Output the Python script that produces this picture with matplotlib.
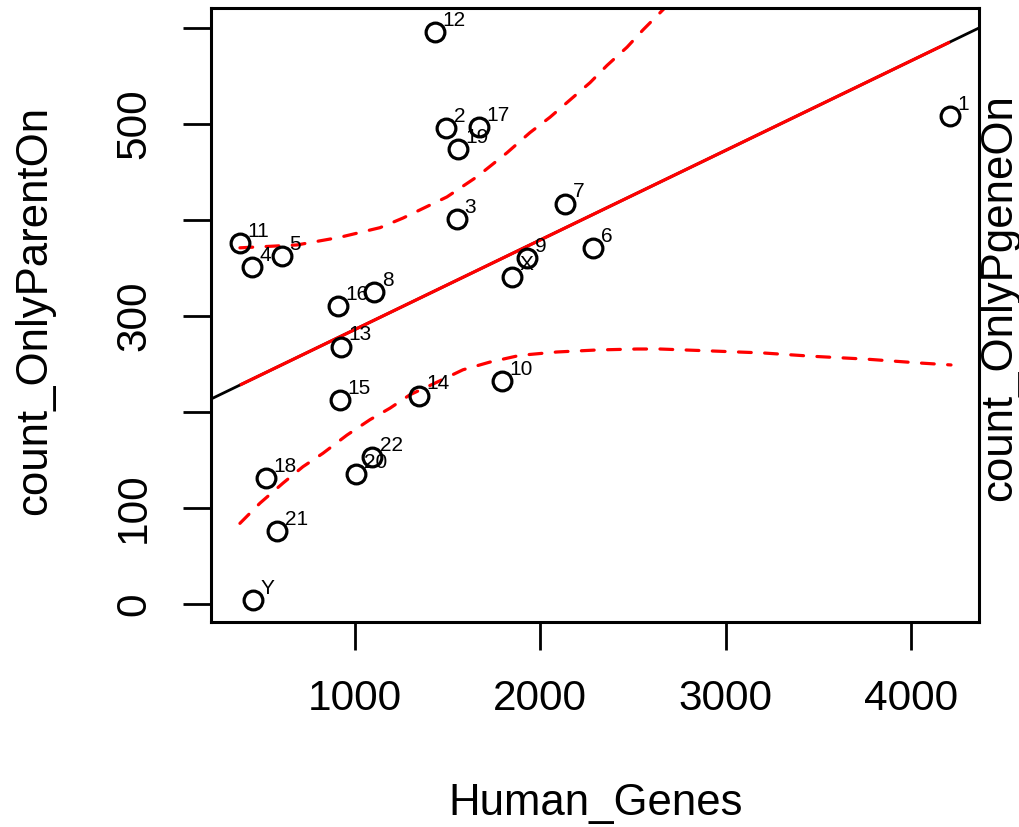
import matplotlib
matplotlib.use("Agg")
import matplotlib.pyplot as plt
import numpy as np

plt.rcParams['font.family'] = ['Liberation Sans', 'DejaVu Sans']

# points
labels = ["12", "2", "17", "19", "3", "7", "11", "4", "5", "16", "8", "9",
          "X", "6", "1", "13", "15", "14", "10", "22", "20", "18", "21", "Y"]
human_genes = [1432, 1491, 1669, 1556, 1550, 2133, 379, 444, 606, 908, 1103, 1928,
               1847, 2284, 4210, 924, 919, 1345, 1793, 1092, 1005, 520, 579, 450]
only_parent_on = [596, 496, 497, 474, 401, 417, 376, 351, 362, 310, 325, 360,
                  341, 371, 508, 268, 212, 217, 232, 153, 135, 131, 76, 4]

# linear fit (black, full width) read at the axis edges
fit_x = [223, 4367]
fit_y = [213.5, 600]

# dashed band curves
upper_x = [379, 687, 919, 1135, 1259, 1496, 1658, 1820, 1944, 2052, 2160, 2268,
           2360, 2468, 2554, 2662, 2754]
upper_y = [371, 374, 382, 392, 402, 424, 445, 470, 491, 507, 525, 543,
           561, 580, 598, 619, 637]
lower_x = [379, 487, 612, 719, 827, 957, 1081, 1189, 1297, 1442, 1583, 1728,
           1890, 2090, 2306, 2522, 2646, 2932, 3201, 3471, 3763, 4049, 4216]
lower_y = [84, 105, 126, 143, 157, 176, 192, 204, 218, 231, 244, 252,
           259, 262.5, 264.6, 265.6, 265.6, 263.5, 261.5, 258, 255, 251, 249]

fig = plt.figure(figsize=(10.2, 8.27), dpi=100)
ax = fig.add_axes([211/1020, 1 - 622/827, (979-211)/1020, (622-8)/827])

ax.plot(fit_x, fit_y, color="black", lw=2.0, solid_capstyle="butt")
red_x = [min(human_genes), max(human_genes)]
ax.plot(red_x, np.interp(red_x, fit_x, fit_y), color="red", lw=2.3, solid_capstyle="butt")
ax.plot(upper_x, upper_y, color="red", lw=2.3, dashes=(4.0, 4.2), dash_capstyle="round")
ax.plot(lower_x, lower_y, color="red", lw=2.3, dashes=(4.0, 4.2), dash_capstyle="round")

ax.plot(human_genes, only_parent_on, "o", ms=13.5, mfc="none", mec="black", mew=2.3)
for lab, x, y in zip(labels, human_genes, only_parent_on):
    ax.annotate(lab, (x, y), xytext=(5.5, 8.5), textcoords="offset points",
                ha="left", va="center", fontsize=15)

ax.set_xlim(223, 4367)
ax.set_ylim(-18.75, 620.8)
ax.set_xticks([1000, 2000, 3000, 4000])
ax.set_yticks([0, 100, 200, 300, 400, 500, 600])
ax.set_yticklabels(["0", "100", "", "300", "", "500", ""], rotation=90, va="center")
ax.tick_params(axis="both", length=20, width=2.0, labelsize=30.5, pad=21)
ax.tick_params(axis="y", pad=21)
for s in ax.spines.values():
    s.set_linewidth(2.2)

fig.text(596/1020, 1 - 803/827, "Human_Genes", ha="center", va="center", fontsize=31.5)
fig.text(35/1020, 1 - 310/827, "count_OnlyParentOn", ha="center", va="center",
         rotation=90, fontsize=31.5)
fig.text(1000/1020, 1 - 298/827, "count_OnlyPgeneOn", ha="center", va="center",
         rotation=90, fontsize=31.5)

fig.savefig("out.png", dpi=100)
